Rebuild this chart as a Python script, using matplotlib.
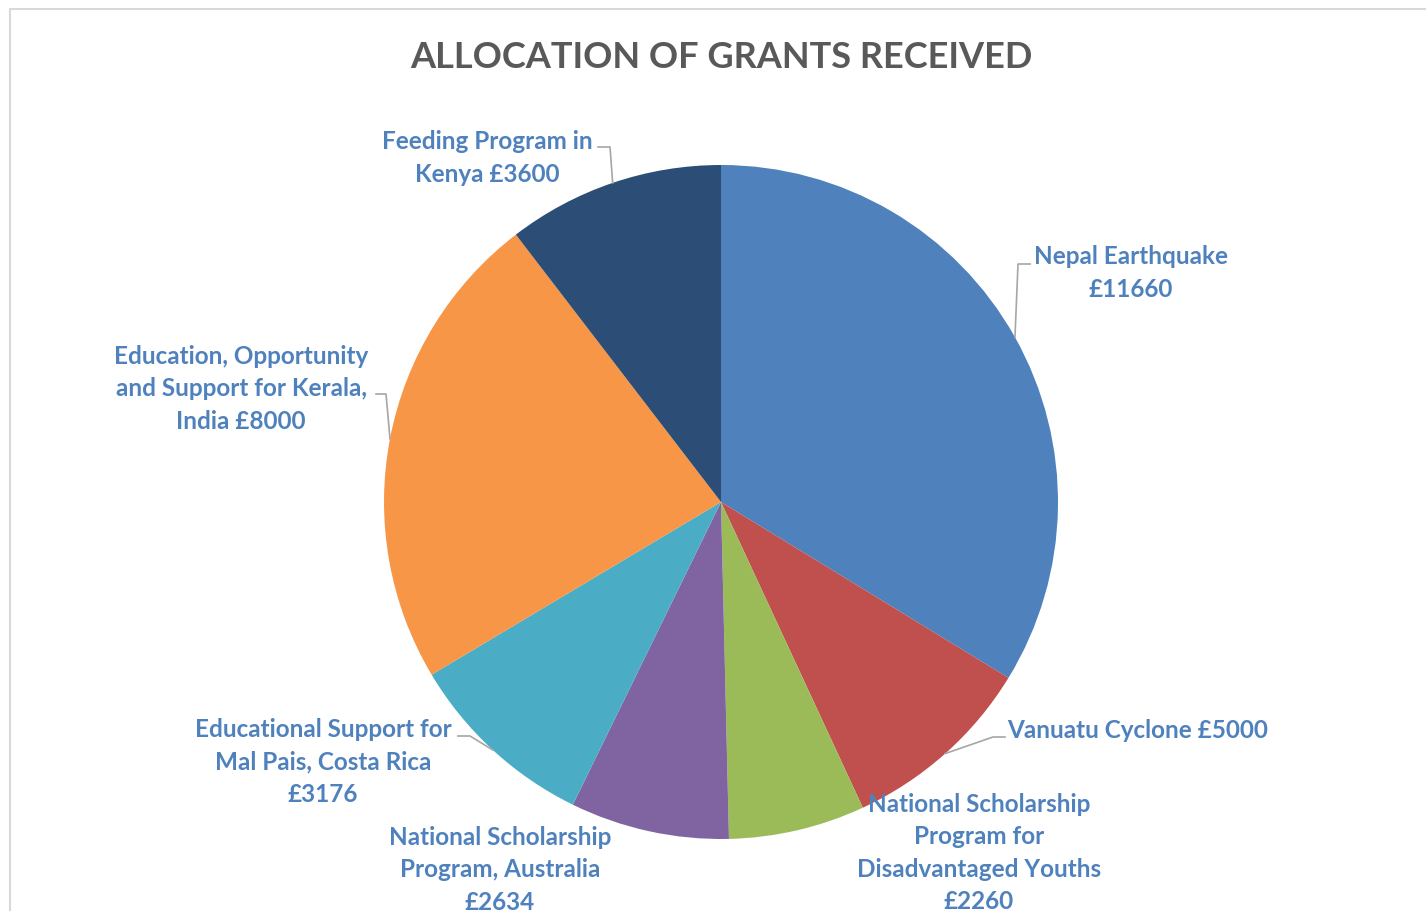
import numpy as np
import matplotlib
matplotlib.use("Agg")
import matplotlib.pyplot as plt
from matplotlib.patches import Rectangle

# slice sizes as drawn, label text as shown (Vanuatu slice is drawn smaller than its label says)
categories = [
    "Nepal Earthquake",
    "Vanuatu Cyclone",
    "National Scholarship Program for Disadvantaged Youths",
    "National Scholarship Program, Australia",
    "Educational Support for Mal Pais, Costa Rica",
    "Education, Opportunity and Support for Kerala, India",
    "Feeding Program in Kenya",
]
slice_values = [11660, 3230, 2260, 2634, 3176, 8000, 3600]
label_amounts = [11660, 5000, 2260, 2634, 3176, 8000, 3600]
label_texts = [
    "Nepal Earthquake\n£11660",
    "Vanuatu Cyclone £5000",
    "National Scholarship\nProgram for\nDisadvantaged Youths\n£2260",
    "National Scholarship\nProgram, Australia\n£2634",
    "Educational Support for\nMal Pais, Costa Rica\n£3176",
    "Education, Opportunity\nand Support for Kerala,\nIndia £8000",
    "Feeding Program in\nKenya £3600",
]
colors = ["#4F81BD", "#C0504D", "#9BBB59", "#8064A2", "#4BACC6", "#F79646", "#2C4D75"]

W, H = 1426, 912
fig = plt.figure(figsize=(W / 100, H / 100), dpi=100)
ax = fig.add_axes([0, 0, 1, 1])

cx, cy, r = 721, H - 503, 337
wedges, _ = ax.pie(slice_values, colors=colors, startangle=90, counterclock=False,
                   center=(cx, cy), radius=r, wedgeprops=dict(linewidth=0))
ax.set_xlim(0, W)
ax.set_ylim(0, H)
ax.axis("off")

# chart frame
ax.add_patch(Rectangle((10, -20), W + 20, H - 10 + 20, fill=False,
                       edgecolor="#D9D9D9", linewidth=1.5, zorder=0))

ax.text(721, H - 57, "ALLOCATION OF GRANTS RECEIVED", ha="center", va="center",
        fontsize=26, fontweight="bold", color="#595959", family="Lato")

# label anchors (pixel layout) and leader elbows; None = no leader
label_pos = [(1131, 273), (1138, 731), (979, 853), (500, 870), (323, 762), (241, 389), (487, 158)]
leaders = [((1030, 265), (1018, 265)),
           ((1005, 738), (993, 738)),
           None, None,
           ((458, 737), (470, 737)),
           ((376, 395), (386, 395)),
           ((598, 148), (610, 148))]

for w, txt, (lx, ly), ld in zip(wedges, label_texts, label_pos, leaders):
    ax.text(lx, H - ly, txt, ha="center", va="center", fontsize=17.5, fontweight="bold",
            color="#4F81BD", family="Lato", linespacing=1.5, zorder=5)
    if ld is not None:
        mid = np.deg2rad((w.theta1 + w.theta2) / 2)
        ex, ey = cx + r * np.cos(mid), cy + r * np.sin(mid)
        (x0, y0), (x1, y1) = ld
        ax.plot([x0, x1, ex], [H - y0, H - y1, ey], color="#A6A6A6", linewidth=1.2, zorder=4)

fig.savefig("out.png", dpi=100)
